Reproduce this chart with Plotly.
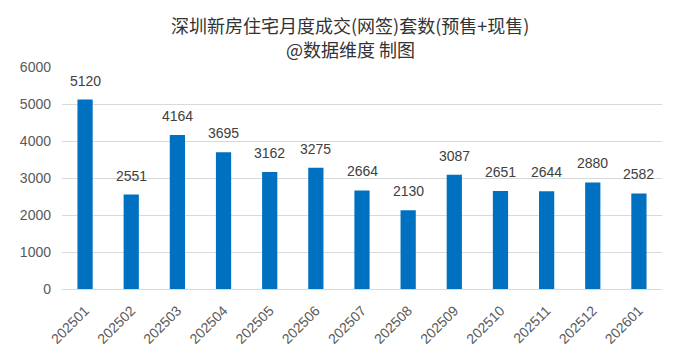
import plotly.graph_objects as go

months = ["202501","202502","202503","202504","202505","202506","202507",
          "202508","202509","202510","202511","202512","202601"]
values = [5120, 2551, 4164, 3695, 3162, 3275, 2664, 2130, 3087, 2651, 2644, 2880, 2582]
y_ticks = [0, 1000, 2000, 3000, 4000, 5000, 6000]
title_lines = ["深圳新房住宅月度成交(网签)套数(预售+现售)", "@数据维度 制图"]

fig = go.Figure(go.Bar(
    x=months, y=values,
    marker=dict(color="#0070C0", line=dict(width=0)),
    hoverinfo="x+y",
))

label_font = dict(family="Liberation Sans, Arial, sans-serif", size=14, color="#404040")
# category axis: annotation x given as category index
annotations = [
    dict(x=i, y=v, text=str(v), xref="x", yref="y", showarrow=False,
         xanchor="center", yanchor="bottom", yshift=9, font=label_font)
    for i, v in enumerate(values)
]

W, H = 668, 353
L, R, T, B = 54, 14, 59, 72
pw, ph = W - L - R, H - T - B
title_font = dict(family="Noto Sans CJK SC, sans-serif", size=18, color="#333333")
cx = (350 - 8 - L) / pw
annotations += [
    dict(text=title_lines[0], xref="paper", yref="paper", x=cx, y=1 + (T - (25 - 8)) / ph,
         xanchor="center", yanchor="middle", showarrow=False, font=title_font),
    dict(text=title_lines[1], xref="paper", yref="paper", x=cx, y=1 + (T - (49 - 8)) / ph,
         xanchor="center", yanchor="middle", showarrow=False, font=title_font),
]

fig.update_layout(
    width=W, height=H,
    margin=dict(l=L, r=R, t=T, b=B, autoexpand=False),
    paper_bgcolor="white", plot_bgcolor="white",
    bargap=0.67,
    showlegend=False,
    annotations=annotations,
    xaxis=dict(
        type="category", tickangle=-45, showgrid=False, automargin=False,
        range=[-0.5, len(months) - 0.5],
        showline=True, linecolor="#D9D9D9", linewidth=1,
        ticks="", ticklabelstandoff=7,
        tickfont=dict(family="Liberation Sans, Arial, sans-serif", size=14, color="#595959"),
    ),
    yaxis=dict(
        range=[0, 6000], tickvals=y_ticks, showgrid=True, gridcolor="#D9D9D9", gridwidth=1,
        zeroline=False, showline=False, ticks="", ticklabelstandoff=10, automargin=False,
        tickfont=dict(family="Liberation Sans, Arial, sans-serif", size=14, color="#595959"),
    ),
)

fig.write_html("out.html")
